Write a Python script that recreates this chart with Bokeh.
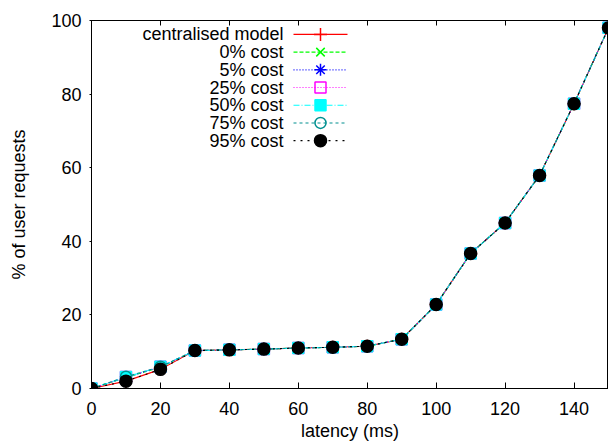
from bokeh.plotting import figure
from bokeh.models import Range1d, LinearAxis, Label, FixedTicker
from bokeh.embed import file_html
from bokeh.resources import INLINE

latency = [0, 10, 20, 30, 40, 50, 60, 70, 80, 90, 100, 110, 120, 130, 140, 150]
centralised = [0, 2.0, 5.2, 10.3, 10.5, 10.7, 11.0, 11.2, 11.5, 13.4, 22.8, 36.7, 45.0, 57.9, 77.4, 98.0]
cost_0 = [0, 3.0, 5.8, 10.3, 10.5, 10.7, 11.0, 11.2, 11.5, 13.4, 22.8, 36.7, 45.0, 57.9, 77.4, 98.0]
cost_5 = [0, 3.0, 5.8, 10.3, 10.5, 10.7, 11.0, 11.2, 11.5, 13.4, 22.8, 36.7, 45.0, 57.9, 77.4, 98.0]
cost_25 = [0, 3.1, 5.9, 10.3, 10.5, 10.7, 11.0, 11.2, 11.5, 13.4, 22.8, 36.7, 45.0, 57.9, 77.4, 98.0]
cost_50 = [0, 3.1, 5.9, 10.3, 10.5, 10.7, 11.0, 11.2, 11.5, 13.4, 22.8, 36.7, 45.0, 57.9, 77.4, 98.0]
cost_75 = [0, 3.2, 5.9, 10.3, 10.5, 10.7, 11.0, 11.2, 11.5, 13.4, 22.8, 36.7, 45.0, 57.9, 77.4, 98.0]
cost_95 = [0, 2.0, 5.2, 10.3, 10.5, 10.7, 11.0, 11.2, 11.5, 13.4, 22.8, 36.7, 45.0, 57.9, 77.4, 98.0]

x_ticks = [0, 20, 40, 60, 80, 100, 120, 140]
y_ticks = [0, 20, 40, 60, 80, 100]

series = [
    ("centralised model", centralised, "#ff0000", "solid", "cross", False, 13),
    ("0% cost", cost_0, "#00ff00", "4 2", "x", False, 12),
    ("5% cost", cost_5, "#0000ff", "1 2", "asterisk", False, 12),
    ("25% cost", cost_25, "#ff00ff", "1 2", "square", False, 11),
    ("50% cost", cost_50, "#00ffff", "6 2 1 2", "square", True, 11),
    ("75% cost", cost_75, "#009090", "3 3", "circle", False, 11),
    ("95% cost", cost_95, "#000000", "2 5", "circle", True, 12),
]

FONT = "Liberation Sans"
FS = "18px"
XMIN, XMAX, YMIN, YMAX = 0, 150, 0, 100
W, H = 608, 443
BL, BR, BT, BB = 91, 0, 20, 53

p = figure(width=W, height=H, output_backend="svg", toolbar_location=None,
           x_range=Range1d(XMIN, XMAX), y_range=Range1d(YMIN, YMAX),
           min_border_left=BL, min_border_right=BR, min_border_top=BT, min_border_bottom=BB)
p.grid.visible = False
p.outline_line_color = "black"
p.outline_line_width = 1
p.background_fill_color = "white"
p.border_fill_color = "white"

for ax in (p.xaxis[0], p.yaxis[0]):
    ax.major_label_text_font = FONT
    ax.major_label_text_font_size = FS
    ax.major_label_text_color = "black"
    ax.axis_label_text_font = FONT
    ax.axis_label_text_font_size = FS
    ax.axis_label_text_font_style = "normal"
    ax.axis_label_text_color = "black"
    ax.minor_tick_line_color = None
    ax.axis_line_color = "black"
    ax.major_tick_line_color = "black"

p.xaxis.ticker = FixedTicker(ticks=x_ticks)
p.yaxis.ticker = FixedTicker(ticks=y_ticks)
p.xaxis.axis_label = "latency (ms)"
p.yaxis.axis_label = "% of user requests"
p.xaxis.major_tick_in = 6
p.xaxis.major_tick_out = 0
p.xaxis.major_label_standoff = 13
p.xaxis.axis_label_standoff = 3
p.yaxis.major_tick_in = 0
p.yaxis.major_tick_out = 2
p.yaxis.major_label_standoff = 8
p.yaxis.axis_label_standoff = 19

top_axis = LinearAxis(ticker=FixedTicker(ticks=x_ticks),
                      major_label_overrides={t: "" for t in x_ticks},
                      major_tick_in=5, major_tick_out=0, minor_tick_line_color=None,
                      major_label_standoff=0, axis_line_color="black")
p.add_layout(top_axis, "above")

# data lines
for name, vals, color, dash, marker, filled, size in series:
    p.line(latency, vals, line_color=color, line_dash=dash, line_width=1.1)
    p.scatter(latency, vals, marker=marker, size=size, line_color=color,
              line_width=1.5, fill_color=color if filled else None)

# legend (gnuplot style: text right-aligned, sample on the right)
fw = W - BL - BR
fh = H - BT - BB
def dx(px):
    return XMIN + (px - BL) / fw * (XMAX - XMIN)
def dy(py):
    return YMAX - (py - BT) / fh * (YMAX - YMIN)

for i, (name, vals, color, dash, marker, filled, size) in enumerate(series):
    cy = 34 + 17.8 * i
    p.add_layout(Label(x=dx(283), y=dy(cy), text=name, text_align="right",
                       text_baseline="middle", text_font=FONT, text_font_size=FS,
                       text_color="black"))
    p.line([dx(293), dx(347)], [dy(cy), dy(cy)], line_color=color, line_dash=dash, line_width=1.1)
    p.scatter([dx(320)], [dy(cy)], marker=marker, size=size, line_color=color,
              line_width=1.5, fill_color=color if filled else None)

open("out.html", "w").write(file_html(p, INLINE))
